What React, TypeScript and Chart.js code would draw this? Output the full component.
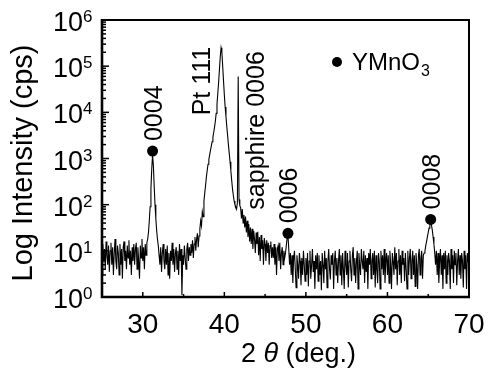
import React, { useEffect, useRef } from "react";
import { Chart, registerables } from "chart.js";

Chart.register(...registerables);

// ---- XRD scan (2θ from 25° to 70°, step 0.1°), counts per second ----
const scanStart = 25;
const scanStep = 0.1;
// 25.0 – 29.9
const scan25 = [3, 14, 6, 11, 4, 16, 8, 5, 13, 3.5, 10, 15, 5, 12, 3, 9, 18, 6, 4, 13, 9, 3, 14, 5, 11, 2.5, 12, 16, 6, 10, 4, 13, 7, 17, 5, 10, 3, 12, 6, 14, 5, 11, 15, 4, 12, 6, 2.5, 13, 7, 18];
// 30.0 – 34.9 (YMnO3 0004)
const scan30 = [6, 12, 4, 14, 8, 15, 18, 25, 45, 90, 220, 600, 1200, 700, 250, 100, 50, 28, 18, 13, 8, 5, 12, 3.5, 9, 14, 6, 4, 11, 5, 13, 3, 9, 2.5, 10, 6, 15, 5, 11, 3.5, 9, 12, 4, 10, 3, 14, 6, 11, 1.1, 8];
// 35.0 – 39.9 (Pt 111)
const scan35 = [5, 13, 7, 4, 11, 15, 6, 12, 8, 14, 9, 17, 7, 14, 20, 10, 18, 24, 12, 21, 30, 45, 35, 70, 55, 120, 180, 260, 400, 550, 750, 950, 1200, 1500, 1850, 2300, 2900, 3700, 4800, 6500, 9500, 15000, 26000, 45000, 85000, 160000, 250000, 200000, 100000, 48000];
// 40.0 – 44.9 (sapphire 0006)
const scan40 = [24000, 13000, 8000, 5000, 3200, 2000, 1300, 850, 540, 340, 220, 160, 120, 100, 90, 80, 110, 60000, 130, 95, 85, 50, 80, 40, 60, 32, 55, 25, 45, 20, 38, 16, 32, 14, 30, 11, 27, 18, 9, 25, 14, 26, 8, 20, 6, 22, 11, 17, 5, 19];
// 45.0 – 49.9 (YMnO3 0006)
const scan45 = [14, 6, 17, 9, 15, 5, 13, 16, 7, 12, 7, 14, 5, 12, 3, 11, 13, 6, 15, 4, 9, 12, 5, 10, 7, 9, 13, 19, 22, 11, 5, 9, 3, 8, 2, 7, 10, 4, 1.6, 8, 5, 2.5, 9, 6, 1.8, 7, 3, 10, 5, 2.2];
// 50.0 – 54.9
const scan50 = [7, 3, 9, 1.7, 6, 10, 2.5, 5, 11, 3.5, 6, 1.5, 8, 4, 9, 2.2, 8, 3, 6, 1.4, 9, 5, 2, 10, 4, 7, 1.6, 6, 11, 4, 2.4, 8, 5, 9, 1.5, 6, 10, 3, 7, 2, 6, 11, 3, 8, 1.8, 9, 4, 1.5, 10, 5];
// 55.0 – 59.9
const scan55 = [3, 9, 1.6, 6, 10, 4, 2.2, 8, 12, 3, 7, 2, 6, 10, 1.5, 9, 5, 3, 11, 6, 4, 10, 2, 8, 3.5, 7, 1.5, 9, 5, 11, 2.5, 6, 9, 3, 10, 1.6, 8, 4, 2, 9, 6, 1.5, 10, 4, 8, 3, 11, 2, 6, 9];
// 60.0 – 64.9
const scan60 = [3, 8, 2, 10, 5, 1.5, 9, 6, 3, 12, 4, 9, 1.8, 6, 11, 3, 8, 2, 10, 5, 7, 2.2, 9, 4, 1.5, 10, 3, 7, 11, 2.5, 6, 10, 3, 8, 1.7, 9, 5, 1.5, 8, 11, 3, 7, 10, 2.5, 8, 9, 10, 13, 16, 20];
// 65.0 – 69.9 (YMnO3 0008)
const scan65 = [25, 31, 37, 40, 36, 28, 20, 14, 9, 5, 10, 3, 9, 2, 6, 11, 3, 8, 1.5, 9, 4, 10, 2, 8, 3, 9, 6, 1.5, 11, 4, 8, 2, 10, 5, 9, 1.8, 6, 11, 3, 8, 2.5, 9, 6, 1.6, 10, 4, 8, 1.5, 9, 6];
// 70.0
const scan70 = [5];

// YMnO3 reflections (marker positions)
const ymnoLabels = ["0004", "0006", "0008"];
const ymnoTheta = [31.2, 47.8, 65.3];
const ymnoCounts = [1450, 24, 48];

// other reflections
const otherLabels = ["Pt 111", "sapphire 0006"];
const otherTheta = [39.6, 41.7];

// axes
const xMin = 25;
const xMax = 70;
const xTickValues = [30, 40, 50, 60, 70];
const yExponents = [0, 1, 2, 3, 4, 5, 6];
const yTitle = "Log Intensity (cps)";
const legendLabel = "YMnO";
const legendSub = "3";

const FONT = "'Liberation Sans', Arial, Helvetica, sans-serif";

const allCounts = [...scan25, ...scan30, ...scan35, ...scan40, ...scan45, ...scan50, ...scan55, ...scan60, ...scan65, ...scan70];
const scanPoints = allCounts.map((c, i) => ({ x: +(scanStart + i * scanStep).toFixed(2), y: c }));
const markerPoints = ymnoTheta.map((t, i) => ({ x: t, y: ymnoCounts[i] }));

function rotText(ctx: CanvasRenderingContext2D, text: string, xBase: number, yStart: number, size: number) {
  ctx.save();
  ctx.translate(xBase, yStart);
  ctx.rotate(-Math.PI / 2);
  ctx.font = `${size}px ${FONT}`;
  ctx.textAlign = "left";
  ctx.textBaseline = "alphabetic";
  ctx.fillText(text, 0, 0);
  ctx.restore();
}

const overlay = {
  id: "overlay",
  afterDatasetsDraw(chart: any) {
    const { ctx, chartArea: a, scales } = chart;
    const xs = scales.x;
    const ys = scales.y;
    ctx.save();
    ctx.fillStyle = "#000";
    ctx.strokeStyle = "#000";

    // frame
    ctx.lineWidth = 2;
    ctx.beginPath();
    ctx.moveTo(a.left, a.top);
    ctx.lineTo(a.right, a.top);
    ctx.lineTo(a.right, a.bottom);
    ctx.stroke();
    ctx.lineWidth = 2.6;
    ctx.beginPath();
    ctx.moveTo(a.left, a.top - 1);
    ctx.lineTo(a.left, a.bottom);
    ctx.lineTo(a.right + 1, a.bottom);
    ctx.stroke();

    // y ticks (inward)
    ctx.lineWidth = 1.5;
    for (const e of yExponents) {
      const py = ys.getPixelForValue(Math.pow(10, e));
      ctx.beginPath();
      ctx.moveTo(a.left, py);
      ctx.lineTo(a.left + 7, py);
      ctx.stroke();
      if (e < 6) {
        for (let m = 2; m <= 9; m++) {
          const pm = ys.getPixelForValue(m * Math.pow(10, e));
          ctx.beginPath();
          ctx.moveTo(a.left, pm);
          ctx.lineTo(a.left + 4, pm);
          ctx.stroke();
        }
      }
    }
    // x ticks (inward)
    for (let v = xMin; v <= xMax; v += 5) {
      const px = xs.getPixelForValue(v);
      const len = v % 10 === 0 ? 5 : 3;
      ctx.beginPath();
      ctx.moveTo(px, a.bottom);
      ctx.lineTo(px, a.bottom - len);
      ctx.stroke();
    }

    // y tick labels 10^n
    for (const e of yExponents) {
      const py = ys.getPixelForValue(Math.pow(10, e)) + 1;
      ctx.font = `27px ${FONT}`;
      ctx.textAlign = "right";
      ctx.textBaseline = "alphabetic";
      ctx.fillText("10", 83, py + 10);
      ctx.font = `17px ${FONT}`;
      ctx.textAlign = "left";
      ctx.fillText(String(e), 83, py + 1);
    }

    // x tick labels
    ctx.font = `28px ${FONT}`;
    ctx.textAlign = "center";
    ctx.textBaseline = "alphabetic";
    for (const v of xTickValues) {
      ctx.fillText(String(v), xs.getPixelForValue(v), a.bottom + 36);
    }

    // x title: 2 θ (deg.)
    const p1 = "2 ";
    const p2 = "θ";
    const p3 = " (deg.)";
    ctx.font = `27px ${FONT}`;
    const w1 = ctx.measureText(p1).width;
    const w3 = ctx.measureText(p3).width;
    ctx.font = `italic 27px ${FONT}`;
    const w2 = ctx.measureText(p2).width;
    const tot = w1 + w2 + w3;
    let sx = (a.left + a.right) / 2 + 13 - tot / 2;
    const by = 362;
    ctx.textAlign = "left";
    ctx.font = `27px ${FONT}`;
    ctx.fillText(p1, sx, by);
    sx += w1;
    ctx.font = `italic 27px ${FONT}`;
    ctx.fillText(p2, sx, by);
    sx += w2;
    ctx.font = `27px ${FONT}`;
    ctx.fillText(p3, sx, by);

    // y title
    ctx.save();
    ctx.translate(32, 163);
    ctx.rotate(-Math.PI / 2);
    ctx.font = `29px ${FONT}`;
    ctx.textAlign = "center";
    ctx.textBaseline = "alphabetic";
    ctx.fillText(yTitle, 0, 0);
    ctx.restore();

    // YMnO3 peak labels
    ymnoLabels.forEach((lab, i) => {
      const px = xs.getPixelForValue(ymnoTheta[i]);
      const py = ys.getPixelForValue(ymnoCounts[i]);
      rotText(ctx, lab, px + 9.5, py - 10, 25);
    });
    // Pt 111 / sapphire labels
    const ptX = xs.getPixelForValue(otherTheta[0]);
    rotText(ctx, otherLabels[0], ptX - 11, ys.getPixelForValue(1e4) + 3, 25);
    const saX = xs.getPixelForValue(otherTheta[1]);
    rotText(ctx, otherLabels[1], saX + 26, ys.getPixelForValue(1e2) + 5, 25);

    // legend
    ctx.beginPath();
    ctx.arc(337, 62, 5, 0, Math.PI * 2);
    ctx.fill();
    ctx.font = `24px ${FONT}`;
    ctx.textAlign = "left";
    ctx.fillText(legendLabel, 352, 70);
    const lw = ctx.measureText(legendLabel).width;
    ctx.font = `16px ${FONT}`;
    ctx.fillText(legendSub, 352 + lw + 1, 76);

    ctx.restore();
  },
};

export default function App() {
  const ref = useRef<HTMLCanvasElement>(null);
  useEffect(() => {
    document.body.style.margin = "0";
    const chart = new Chart(ref.current!, {
      type: "scatter",
      data: {
        datasets: [
          {
            label: "scan",
            data: scanPoints,
            showLine: true,
            borderColor: "#000",
            borderWidth: 1.1,
            pointRadius: 0,
            tension: 0,
          } as any,
          {
            label: "YMnO3",
            data: markerPoints,
            showLine: false,
            pointRadius: 5.5,
            pointBackgroundColor: "#000",
            pointBorderColor: "#000",
            pointBorderWidth: 0,
          } as any,
        ],
      },
      options: {
        animation: false,
        responsive: false,
        maintainAspectRatio: false,
        layout: { padding: { left: 102, right: 20, top: 20, bottom: 78 } },
        plugins: { legend: { display: false }, tooltip: { enabled: false } },
        scales: {
          x: { type: "linear", min: xMin, max: xMax, display: false },
          y: { type: "logarithmic", min: 1, max: 1e6, display: false },
        },
      },
      plugins: [overlay],
    });
    return () => chart.destroy();
  }, []);
  return (
    <div style={{ width: 489, height: 375, position: "relative", background: "#fff" }}>
      <canvas ref={ref} width={489} height={375} style={{ display: "block" }} />
    </div>
  );
}
